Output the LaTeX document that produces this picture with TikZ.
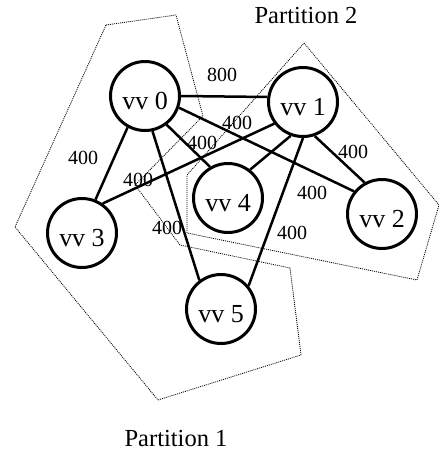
\documentclass[tikz,border=0pt]{standalone}
\usepackage{fontspec}
\setmainfont{Liberation Serif}
\begin{document}
\begin{tikzpicture}[x=1pt,y=-1pt,
  vertex/.style={draw, circle, line width=3pt, minimum size=69pt, inner sep=0pt,
    text height=27pt, text depth=0pt, font=\fontsize{26}{26}\selectfont},
  link/.style={line width=2.5pt},
  weight/.style={font=\fontsize{20}{20}\selectfont, inner sep=0pt},
  part/.style={line width=0.8pt, dash pattern=on 1pt off 1pt},
  caption/.style={font=\fontsize{24.5}{24.5}\selectfont, inner sep=0pt, anchor=base}]
\useasboundingbox (0,0) rectangle (439,453);

% partition outlines
\draw[part] (106,25) -- (176,15) -- (203,116) -- (135,185) -- (180,245)
  -- (290,268) -- (301,355) -- (158,400) -- (15,227) -- cycle;
\draw[part] (304,43) -- (439,205) -- (417,280) -- (187,233) -- (187,175) -- cycle;

% vertices
\node[vertex] (v0) at (145,96) {vv 0};
\node[vertex] (v1) at (303,102) {vv 1};
\node[vertex] (v2) at (382,214) {vv 2};
\node[vertex] (v3) at (82,233) {vv 3};
\node[vertex] (v4) at (228,198) {vv 4};
\node[vertex] (v5) at (221,309) {vv 5};

% edges
\draw[link] (v0.east) -- (v1.172);
\draw[link] (v0.-19) -- (v2.141);
\draw[link] (v0.-53) -- (v4.120);
\draw[link] (v0.241) -- (v3.68);
\draw[link] (v0.282) -- (v5.127);
\draw[link] (v1.217) -- (v3.55);
\draw[link] (v1.250) -- (v4.52);
\draw[link] (v1.289) -- (v2.119);
\draw[link] (v1.270) -- (v5.40);

% edge weights
\node[weight] (w01) at (222,75) {800};
\node[weight] (w14) at (237,123) {400};
\node[weight] (w04) at (202,143) {400};
\node[weight] (w03) at (83,158) {400};
\node[weight] (w13) at (138,180) {400};
\node[weight] (w05) at (167,228) {400};
\node[weight] (w12) at (353,152) {400};
\node[weight] (w02) at (312,193) {400};
\node[weight] (w15) at (292,233) {400};

% captions
\node[caption] (p2) at (306,23) {Partition 2};
\node[caption] (p1) at (176,446) {Partition 1};
\end{tikzpicture}
\end{document}
